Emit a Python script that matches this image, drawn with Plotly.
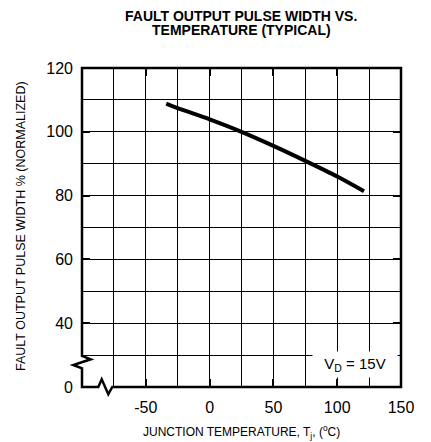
import plotly.graph_objects as go

# ---- data ----
temp_c = [-34, -25, 0, 25, 50, 75, 100, 121]
pulse_width_pct = [108.8, 107.4, 103.9, 100.0, 95.6, 90.9, 86.0, 81.4]

x_tick_vals = [-50, 0, 50, 100, 150]
x_tick_text = ["-50", "0", "50", "100", "150"]
x_minor_vals = [-75, -25, 25, 75, 125]
y_tick_vals = [20, 40, 60, 80, 100, 120]
y_tick_text = ["0", "40", "60", "80", "100", "120"]
y_minor_vals = [30, 50, 70, 90, 110]

title_lines = ["FAULT OUTPUT PULSE WIDTH VS.", "TEMPERATURE (TYPICAL)"]
x_title = "JUNCTION TEMPERATURE, T<sub>j</sub>, (<sup>o</sup>C)"
y_title = "FAULT OUTPUT PULSE WIDTH % (NORMALIZED)"
cond_label = "V<sub>D</sub> = 15V"

FONT = "Liberation Sans, Arial, sans-serif"

W, H = 431, 442
L, R, T, B = 82, 30, 68, 55
PW, PH = W - L - R, H - T - B


def X(px):
    return (px - L) / PW


def Y(py):
    return (H - B - py) / PH


fig = go.Figure()
fig.add_trace(go.Scatter(
    x=temp_c, y=pulse_width_pct, mode="lines",
    line=dict(color="black", width=4, shape="spline", smoothing=0.8),
    showlegend=False, hoverinfo="skip"))

axis_common = dict(
    showline=False, zeroline=False,
    ticks="inside", ticklen=8, tickwidth=2, tickcolor="black",
    mirror="ticks",
    showgrid=True, gridcolor="black", gridwidth=1,
    tickfont=dict(family=FONT, size=16, color="black"),
)

fig.update_xaxes(
    range=[-100, 150], tickmode="array", tickvals=x_tick_vals,
    ticktext=x_tick_text,
    minor=dict(tickmode="array", tickvals=x_minor_vals, showgrid=True,
               gridcolor="black", gridwidth=1, ticks=""),
    ticklabelstandoff=9,
    **axis_common)
fig.update_yaxes(
    range=[20, 120], tickmode="array", tickvals=y_tick_vals,
    ticktext=y_tick_text,
    minor=dict(tickmode="array", tickvals=y_minor_vals, showgrid=True,
               gridcolor="black", gridwidth=1, ticks=""),
    ticklabelstandoff=8,
    **axis_common)

# frame with axis-break zigzags
pts = [(82, 68), (82, 356), (90.7, 359.3), (73.3, 365), (82, 368.3),
       (82, 387), (98.3, 387), (101.7, 379.3), (108.3, 394.3),
       (112.3, 387), (401, 387), (401, 68)]
path = "M " + " L ".join(f"{X(a):.5f},{Y(b):.5f}" for a, b in pts) + " Z"
fig.add_shape(type="path", path=path, xref="paper", yref="paper",
              line=dict(color="black", width=2.5), layer="above")

annotations = [
    dict(text=f"<b>{title_lines[0]}</b>", xref="paper", yref="paper",
         x=X(241), y=Y(15.5), xanchor="center", yanchor="middle",
         showarrow=False, font=dict(family=FONT, size=14, color="black")),
    dict(text=f"<b>{title_lines[1]}</b>", xref="paper", yref="paper",
         x=X(241), y=Y(29.5), xanchor="center", yanchor="middle",
         showarrow=False, font=dict(family=FONT, size=14, color="black")),
    dict(text=x_title, xref="paper", yref="paper",
         x=X(241), y=Y(432), xanchor="center", yanchor="middle",
         showarrow=False, font=dict(family=FONT, size=12, color="black")),
    dict(text=y_title, xref="paper", yref="paper", textangle=-90,
         x=X(21), y=Y(226), xanchor="center", yanchor="middle",
         showarrow=False, font=dict(family=FONT, size=12.5, color="black")),
    dict(text=cond_label, xref="paper", yref="paper",
         x=X(355), y=Y(364.2), xanchor="center", yanchor="middle",
         width=84, height=25, borderpad=0, bgcolor="white",
         showarrow=False, font=dict(family=FONT, size=15, color="black")),
]

fig.update_layout(
    width=W, height=H,
    margin=dict(l=L, r=R, t=T, b=B, pad=0),
    paper_bgcolor="white", plot_bgcolor="white",
    annotations=annotations,
    font=dict(family=FONT, color="black"),
)

fig.write_html(
    "out.html",
    config={"displayModeBar": False, "staticPlot": True},
    post_script="document.body.style.margin='0';document.body.style.overflow='hidden';",
)
